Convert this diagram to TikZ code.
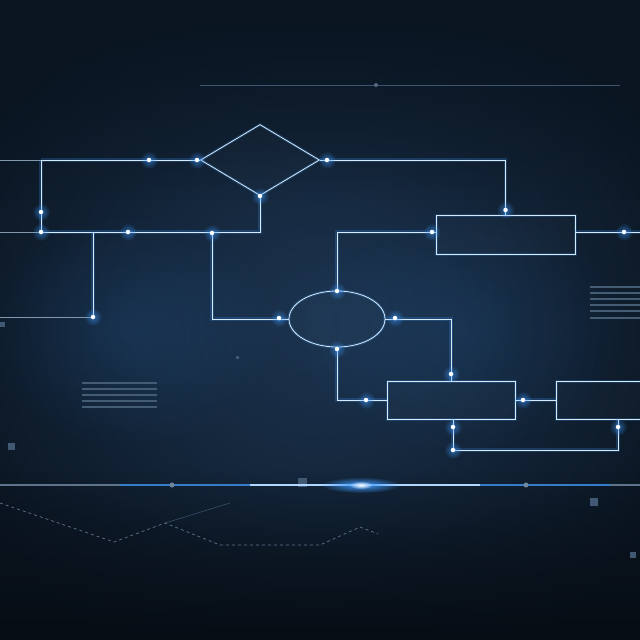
\documentclass[tikz,border=0pt]{standalone}
\usetikzlibrary{shapes.geometric,fadings}
\definecolor{bgmid}{HTML}{1C3450}
\definecolor{bgedge}{HTML}{0A1521}
\definecolor{bgdeep}{HTML}{070D15}
\definecolor{wirecol}{HTML}{D6EAF8}
\definecolor{glowblue}{HTML}{3F9BFF}
\tikzfading[name=glowfade, inner color=transparent!0, outer color=transparent!100]
\tikzfading[name=topdark, top color=transparent!0, bottom color=transparent!100]
\tikzfading[name=bottomdark, top color=transparent!100, bottom color=transparent!0]

\begin{document}
\begin{tikzpicture}[x=1pt,y=-1pt]
\tikzstyle{wire}=[draw=wirecol, line width=0.9pt, preaction={draw=glowblue, line width=3.5pt, opacity=0.22}]
\tikzstyle{dim wire}=[draw=wirecol!55!bgmid, line width=0.8pt]
\tikzstyle{outline}=[draw=wirecol, line width=0.8pt, inner sep=0pt, fill=white, fill opacity=0.015, preaction={draw=glowblue, line width=3pt, opacity=0.2}]
\tikzstyle{decision}=[outline, diamond, minimum width=119pt, minimum height=71pt]
\tikzstyle{oval}=[outline, ellipse, minimum width=96pt, minimum height=56pt]
\tikzstyle{stepbox}=[outline, rectangle, minimum height=39pt]
\tikzstyle{dot}=[circle, fill=white, inner sep=0pt, minimum size=4.5pt]
\tikzstyle{hatch}=[draw=wirecol!22!bgmid, line width=1.2pt]

\useasboundingbox (0,0) rectangle (640,640);
\shade[inner color=bgmid, outer color=bgedge] (-80,-60) rectangle (720,700);
\fill[bgedge, path fading=topdark] (0,0) rectangle (640,200);
\fill[bgdeep, path fading=bottomdark] (0,470) rectangle (640,640);
\fill[glowblue, opacity=0.12, path fading=glowfade] (130,330) ellipse (150 and 120);
\fill[glowblue, opacity=0.10, path fading=glowfade] (460,330) ellipse (170 and 130);

\foreach \y in {383,389,395,401,407} \draw[hatch] (82,\y) -- (157,\y);
\foreach \y in {287,293,299,305,311,318} \draw[hatch] (590,\y) -- (640,\y);
\draw[draw=wirecol!18!bgmid, line width=1pt] (200,85) -- (620,85);
\fill[wirecol!30!bgmid] (376,85) circle (2);
\draw[dashed, wirecol!35!bgmid, line width=0.7pt] (0,503) -- (114,542) -- (165,523) -- (220,545) -- (320,545) -- (360,527) -- (378,534);
\draw[wirecol!15!bgmid, line width=0.6pt] (165,523) -- (230,503);
\foreach \sx/\sy/\ss in {8/443/7, 298/478/9, 590/498/8, 0/322/5, 236/356/3, 630/552/6}
  \fill[wirecol!20!bgmid] (\sx,\sy) rectangle ++(\ss,\ss);

\draw[wirecol!35!bgmid, line width=1.2pt] (0,485) -- (640,485);
\draw[glowblue!70!bgmid, line width=1.4pt] (120,485) -- (610,485);
\draw[glowblue!40!white, line width=1.2pt] (250,485) -- (480,485);
\fill[glowblue, path fading=glowfade] (361,485) ellipse (40 and 8);
\fill[white, path fading=glowfade] (361,485) ellipse (12 and 4);
\fill[wirecol!45!bgmid] (172,485) circle (2.5) (526,485) circle (2.5);

\node[decision] (dec) at (260,160) {};
\node[oval] (ell) at (337,319) {};
\node[stepbox, minimum width=139pt] (boxa) at (505.5,234.5) {};
\node[stepbox, minimum width=128pt, minimum height=38pt] (boxb) at (451,400) {};
\node[stepbox, minimum width=90pt, minimum height=38pt] (boxc) at (601,400) {};

\coordinate (lt) at (0,160);
\coordinate (ltc) at (41,160);
\coordinate (lm) at (0,232);
\coordinate (lmc) at (41,232);
\coordinate (lmb) at (93,232);
\coordinate (lmd) at (212,232);
\coordinate (lb) at (0,317);
\coordinate (lbc) at (93,317);
\coordinate (re) at (640,232);
\coordinate (lp) at (453,450);
\coordinate (rp) at (618,450);

\draw[dim wire] (lt) -- (ltc);
\draw[wire] (ltc) -- (dec.west);
\draw[wire] (ltc) -- (lmc);
\draw[dim wire] (lm) -- (lmc);
\draw[wire] (lmc) -- (dec.south |- lmc) -- (dec.south);
\draw[wire] (lmb) -- (lbc);
\draw[dim wire] (lb) -- (lbc);
\draw[wire] (lmd) |- (ell.west);
\draw[wire] (dec.east) -| (boxa.north);
\draw[wire] (boxa.east |- re) -- (re);
\draw[wire] (ell.north) |- (boxa.west |- re);
\draw[wire] (ell.east) -| (boxb.north);
\draw[wire] (ell.south) |- (boxb.west);
\draw[wire] (boxb.east) -- (boxc.west);
\draw[wire] (boxb.south -| lp) -- (lp) -- (rp) -- (boxc.south -| rp);

\foreach \nm/\px/\py in {dA/149/160, dB/197/160, dC/327/160, dD/505.5/210, dE/41/212, dF/41/232, dG/128/232, dH/212/233, dI/260/196, dJ/93/317, dK/279/318, dL/337/291, dM/432/232, dN/624/232, dO/395/318, dP/451/374, dQ/337/349, dR/366/400, dS/523/400, dT/453/427, dU/453/450, dV/618/427}
{
  \fill[glowblue, opacity=0.55, path fading=glowfade] (\px,\py) circle (9);
  \node[dot] (\nm) at (\px,\py) {};
}
\end{tikzpicture}
\end{document}
